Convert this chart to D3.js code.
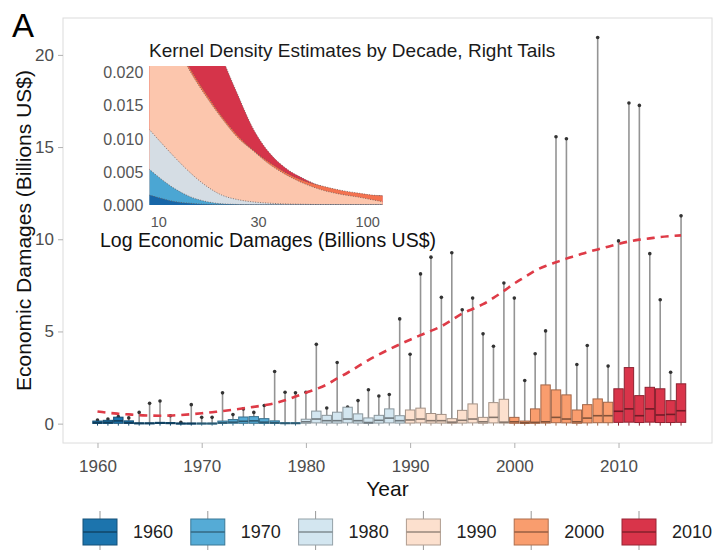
<!DOCTYPE html>
<html>
<head>
<meta charset="utf-8">
<script src="https://cdn.jsdelivr.net/npm/d3@7/dist/d3.min.js"></script>
<style>
  body { margin: 0; background: #fff; }
  svg { display: block; font-family: "Liberation Sans", Arial, Helvetica, sans-serif; }
</style>
</head>
<body>
<svg id="chart" width="716" height="550"></svg>
<script>
// ---- main chart data ----
const years = d3.range(1960, 2017);
const decades = [1960, 1970, 1980, 1990, 2000, 2010];
const decadeColors = ["#1c74ad", "#55abd6", "#d3e6f0", "#fce0ce", "#f99d6e", "#d9344a"];

// upper whisker end (dot), box top, median, box bottom -- billions US$
const whiskerTop = [0.2, 0.25, 0.38, 0.31, 0.61, 1.1, 1.23, 0.43, 0.07, 1.03,
  0.34, 0.34, 1.67, 0.49, 0.8, 0.61, 0.98, 2.83, 1.7, 1.67,
  1.7, 4.3, 0.85, 3.32, 0.9, 1.25, 1.84, 1.5, 1.58, 5.68,
  3.76, 8.12, 9.03, 6.85, 9.27, 6.18, 6.81, 4.87, 4.2, 7.63,
  6.81, 2.34, 3.79, 5.03, 15.56, 15.45, 3.21, 4.24, 20.94, 3.12,
  9.91, 17.39, 17.26, 9.22, 6.72, 2.79, 11.27];
const boxQ3 = [0.14, 0.18, 0.35, 0.15, 0.04, 0.04, 0.07, 0.06, 0.03, 0.03,
  0.03, 0.03, 0.14, 0.22, 0.36, 0.38, 0.27, 0.15, 0.05, 0.05,
  0.24, 0.68, 0.45, 0.62, 0.89, 0.53, 0.31, 0.45, 0.8, 0.43,
  0.74, 0.84, 0.55, 0.5, 0.27, 0.72, 1.07, 0.34, 1.14, 1.32,
  0.34, 0.14, 0.8, 2.1, 1.83, 1.56, 0.74, 1.03, 1.34, 1.16,
  1.89, 3.04, 1.52, 1.97, 1.89, 1.25, 2.16];
const boxMedian = [0.05, 0.07, 0.15, 0.05, 0.02, 0.02, 0.03, 0.02, 0.01, 0.01,
  0.01, 0.01, 0.05, 0.08, 0.13, 0.15, 0.08, 0.05, 0.02, 0.02,
  0.1, 0.25, 0.16, 0.16, 0.25, 0.16, 0.06, 0.18, 0.3, 0.16,
  0.2, 0.25, 0.16, 0.16, 0.08, 0.18, 0.25, 0.1, 0.34, 0.08,
  0.1, 0.05, 0.07, 0.1, 0.34, 0.25, 0.1, 0.3, 0.43, 0.43,
  0.67, 0.8, 0.43, 0.8, 0.47, 0.5, 0.7];
const boxQ1 = [0.01, 0.01, 0.02, 0.01, 0, 0, 0.01, 0, 0, 0,
  0, 0, 0.01, 0.02, 0.02, 0.02, 0.01, 0.01, 0, 0,
  0.02, 0.04, 0.03, 0.03, 0.04, 0.03, 0.01, 0.03, 0.04, 0.03,
  0.03, 0.04, 0.03, 0.03, 0.02, 0.03, 0.04, 0.02, 0.04, 0.03,
  0.02, 0.01, 0.02, 0.03, 0.05, 0.04, 0.02, 0.04, 0.05, 0.05,
  0.07, 0.08, 0.06, 0.08, 0.06, 0.06, 0.07];
const whiskerLow = 0;

// red dashed trend
const trendValues = [0.66, 0.59, 0.54, 0.5, 0.46, 0.44, 0.43, 0.44, 0.47, 0.51,
  0.56, 0.62, 0.68, 0.75, 0.83, 0.91, 1.0, 1.1, 1.27, 1.47,
  1.68, 1.88, 2.12, 2.45, 2.76, 3.1, 3.45, 3.75, 4.03, 4.3,
  4.55, 4.8, 5.03, 5.28, 5.62, 5.97, 6.22, 6.48, 6.82, 7.2,
  7.6, 7.95, 8.3, 8.55, 8.75, 8.95, 9.12, 9.3, 9.45, 9.6,
  9.75, 9.88, 9.98, 10.05, 10.12, 10.17, 10.21];

const xTicks = [1960, 1970, 1980, 1990, 2000, 2010];
const yTicks = [0, 5, 10, 15, 20];

// ---- inset (kernel density right tails) ----
const kdeX = [9, 10, 12, 14, 17, 20, 24, 28, 34, 40, 50, 60, 75, 90, 105, 118];
const kde2010 = [0.05, 0.048, 0.042, 0.036, 0.029, 0.0225, 0.0165, 0.0118, 0.0078, 0.0057, 0.0039, 0.0028, 0.0019, 0.0015, 0.0014, 0.0014];
const kde2000 = [0.034, 0.031, 0.025, 0.0208, 0.0166, 0.0134, 0.0104, 0.0084, 0.0064, 0.005, 0.0036, 0.0029, 0.0022, 0.0018, 0.0015, 0.0014];
const kde1990 = [0.033, 0.03, 0.0245, 0.0204, 0.0162, 0.0131, 0.0101, 0.0083, 0.0061, 0.0047, 0.0032, 0.0023, 0.0016, 0.0012, 0.0008, 0.0005];
const kde1980 = [0.0114, 0.0098, 0.0071, 0.005, 0.0028, 0.0015, 0.0008, 0.00048, 0.00027, 0.00016, 0.0001, 0.00006, 0.00004, 0.00003, 0.00002, 0.00002];
const kde1970 = [0.0054, 0.0042, 0.0024, 0.0013, 0.0005, 0.00018, 0.00008, 0.00004, 0.00002, 0.00001, 0, 0, 0, 0, 0, 0];
const kde1960 = [0.0015, 0.0011, 0.0005, 0.00027, 0.0001, 0.00006, 0.00005, 0.00005, 0.00005, 0.00005, 0.00005, 0.00005, 0.00005, 0.00005, 0.00005, 0.00005];
const kdeColors = ["#1766a8", "#4ba6d3", "#d5dde4", "#fcc6ad", "#f4724f", "#d5344a"];
const insetYTicks = [0, 0.005, 0.01, 0.015, 0.02];
const insetXTicks = [10, 30, 100];

const svg = d3.select("#chart");

// ---- main panel ----
const panel = {left: 63, right: 712, top: 18, bottom: 443};
const x = d3.scaleLinear().domain([1956.69, 2018.97]).range([panel.left, panel.right]);
const y = d3.scaleLinear().domain([-1.05, 22.0]).range([panel.bottom, panel.top]);
const colorOf = yr => decadeColors[decades.indexOf(Math.floor(yr / 10) * 10)];

svg.append("rect")
    .attr("x", panel.left).attr("y", panel.top)
    .attr("width", panel.right - panel.left).attr("height", panel.bottom - panel.top)
    .attr("fill", "#fff").attr("stroke", "#dcdcdc").attr("stroke-width", 1);

// axes
const xAxis = svg.append("g")
    .attr("transform", `translate(0,${panel.bottom})`)
    .call(d3.axisBottom(x).tickValues(xTicks).tickFormat(d3.format("d")).tickSize(5).tickPadding(12));
const yAxis = svg.append("g")
    .attr("transform", `translate(${panel.left},0)`)
    .call(d3.axisLeft(y).tickValues(yTicks).tickSize(5).tickPadding(4));
[xAxis, yAxis].forEach(g => {
    g.select(".domain").remove();
    g.selectAll("line").attr("stroke", "#b0b0b0");
    g.selectAll("text").attr("fill", "#4d4d4d").style("font-size", "17px");
});

svg.append("text").attr("x", (panel.left + panel.right) / 2).attr("y", 496)
    .attr("text-anchor", "middle").style("font-size", "21px").attr("fill", "#111").text("Year");
svg.append("text").attr("transform", `translate(31,${(panel.top + panel.bottom) / 2}) rotate(-90)`)
    .attr("text-anchor", "middle").style("font-size", "21px").attr("fill", "#111")
    .text("Economic Damages (Billions US$)");
svg.append("text").attr("x", 12).attr("y", 37).style("font-size", "33px").attr("fill", "#000").text("A");

// boxes
const bw = 0.9 * (x(1961) - x(1960));
const boxes = svg.append("g").selectAll("g")
    .data(years.map((yr, i) => ({yr, i})))
    .join("g");

boxes.append("line")
    .attr("x1", d => x(d.yr)).attr("x2", d => x(d.yr))
    .attr("y1", d => y(boxQ3[d.i])).attr("y2", d => y(whiskerTop[d.i]))
    .attr("stroke", "#949494").attr("stroke-width", 1.6);
boxes.append("line")
    .attr("x1", d => x(d.yr)).attr("x2", d => x(d.yr))
    .attr("y1", d => y(boxQ1[d.i])).attr("y2", d => y(whiskerLow) + 2)
    .attr("stroke", d => d3.color(colorOf(d.yr)).darker(1.2)).attr("stroke-width", 1);
boxes.append("circle")
    .attr("cx", d => x(d.yr)).attr("cy", d => y(whiskerTop[d.i]))
    .attr("r", 1.8).attr("fill", "#333");
boxes.append("rect")
    .attr("x", d => x(d.yr) - bw / 2).attr("width", bw)
    .attr("y", d => y(boxQ3[d.i]))
    .attr("height", d => Math.max(1, y(boxQ1[d.i]) - y(boxQ3[d.i])))
    .attr("fill", d => colorOf(d.yr))
    .attr("stroke", d => d3.color(colorOf(d.yr)).darker(1.2)).attr("stroke-width", 1);
boxes.append("line")
    .attr("x1", d => x(d.yr) - bw / 2).attr("x2", d => x(d.yr) + bw / 2)
    .attr("y1", d => y(boxMedian[d.i])).attr("y2", d => y(boxMedian[d.i]))
    .attr("stroke", d => d3.color(colorOf(d.yr)).darker(1.8)).attr("stroke-width", 1.6);

// trend
const trend = d3.line().x((d, i) => x(years[i])).y(d => y(d)).curve(d3.curveMonotoneX);
svg.append("path")
    .attr("d", trend(trendValues))
    .attr("fill", "none").attr("stroke", "#de3b47").attr("stroke-width", 2.6)
    .attr("stroke-dasharray", "8,6");

// ---- inset ----
const inset = {left: 149.3, right: 382.7, top: 66, bottom: 205};
const ix = d3.scaleLog().domain([9, 118]).range([inset.left, inset.right]);
const iy = d3.scaleLinear().domain([0, 0.021]).range([inset.bottom, inset.top]);

svg.append("clipPath").attr("id", "inset-clip")
  .append("rect").attr("x", inset.left).attr("y", inset.top)
    .attr("width", inset.right - inset.left).attr("height", inset.bottom - inset.top);

const kdeSeries = [kde2010, kde2000, kde1990, kde1980, kde1970, kde1960];
const kdeFill = [5, 4, 3, 2, 1, 0].map(k => kdeColors[k]);
const area = d3.area().x((d, i) => ix(kdeX[i])).y0(iy(0)).y1(d => iy(d)).curve(d3.curveMonotoneX);
const topLine = d3.line().x((d, i) => ix(kdeX[i])).y(d => iy(d)).curve(d3.curveMonotoneX);

const ig = svg.append("g").attr("clip-path", "url(#inset-clip)");
kdeSeries.forEach((s, k) => {
    ig.append("path").attr("d", area(s)).attr("fill", kdeFill[k]);
    ig.append("path").attr("d", topLine(s)).attr("fill", "none")
      .attr("stroke", "#6b5b58").attr("stroke-width", 0.8).attr("stroke-dasharray", "1,1.5");
});

svg.append("g").selectAll("text").data(insetYTicks).join("text")
    .attr("x", inset.left - 6).attr("y", d => iy(d)).attr("dy", "0.36em")
    .attr("text-anchor", "end").style("font-size", "16px").attr("fill", "#555")
    .text(d3.format(".3f"));
svg.append("g").selectAll("text").data(insetXTicks).join("text")
    .attr("x", d => ix(d)).attr("y", 222).attr("dy", "0.36em")
    .attr("text-anchor", "middle").style("font-size", "14.5px").attr("fill", "#555")
    .text(d => d);

svg.append("text").attr("x", 149).attr("y", 57).style("font-size", "19px").attr("fill", "#1a1a1a")
    .text("Kernel Density Estimates by Decade, Right Tails");
svg.append("text").attr("x", 100).attr("y", 247).style("font-size", "19.5px").attr("fill", "#111")
    .text("Log Economic Damages (Billions US$)");

// ---- legend ----
const legend = svg.append("g").selectAll("g").data(decades).join("g")
    .attr("transform", (d, i) => `translate(${83 + i * 107.8},519)`);
legend.append("line").attr("x1", 17).attr("x2", 17).attr("y1", -8).attr("y2", 34)
    .attr("stroke", "#999").attr("stroke-width", 1);
legend.append("rect").attr("width", 34).attr("height", 26)
    .attr("fill", (d, i) => decadeColors[i])
    .attr("stroke", (d, i) => d3.color(decadeColors[i]).darker(1.0)).attr("stroke-width", 1);
legend.append("line").attr("x1", 0).attr("x2", 34).attr("y1", 13).attr("y2", 13)
    .attr("stroke", (d, i) => d3.color(decadeColors[i]).darker(1.4)).attr("stroke-width", 1.5);
legend.append("text").attr("x", 50).attr("y", 13).attr("dy", "0.36em")
    .style("font-size", "18px").attr("fill", "#222").text(d => d);
</script>
</body>
</html>
